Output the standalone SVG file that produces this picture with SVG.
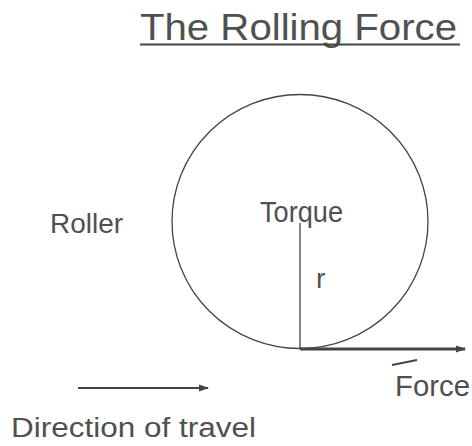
<svg xmlns="http://www.w3.org/2000/svg" width="472" height="446" viewBox="0 0 472 446">
<style>
text{font-family:"Liberation Sans",Arial,sans-serif;fill:#505050}
.ln{stroke:#444;fill:none}
</style>
<defs>
<marker id="ah" markerWidth="10" markerHeight="8" refX="9" refY="4" orient="auto" markerUnits="userSpaceOnUse">
<path d="M0,0.5 L10,4 L0,7.5 Z" fill="#444"/>
</marker>
</defs>
<rect width="472" height="446" fill="#fff"/>
<g id="title">
<text x="140" y="40" font-size="37" textLength="317" lengthAdjust="spacingAndGlyphs">The Rolling Force</text>
<line class="ln" x1="140" y1="44.5" x2="460" y2="44.5" stroke-width="2"/>
</g>
<g id="roller">
<ellipse class="ln" cx="300" cy="221.5" rx="128" ry="127" stroke-width="1.3"/>
<text x="50" y="233" font-size="28" textLength="73" lengthAdjust="spacingAndGlyphs">Roller</text>
</g>
<g id="torque"><text x="260" y="222" font-size="29" textLength="83" lengthAdjust="spacingAndGlyphs">Torque</text></g>
<g id="radius"><text x="316" y="288" font-size="28">r</text></g>
<g id="force">
<text x="395" y="396" font-size="29" textLength="75" lengthAdjust="spacingAndGlyphs">Force</text>
<line class="ln" x1="392" y1="365" x2="417" y2="360" stroke-width="1.8"/>
</g>
<g id="direction"><text x="11" y="437" font-size="27" textLength="245" lengthAdjust="spacingAndGlyphs">Direction of travel</text></g>
<g id="connectors">
<line class="ln" x1="300" y1="223" x2="300" y2="349" stroke-width="1.3"/>
<line class="ln" x1="300" y1="349" x2="465" y2="349" stroke-width="3" marker-end="url(#ah)"/>
<line class="ln" x1="78" y1="388" x2="208" y2="388" stroke-width="2" marker-end="url(#ah)"/>
</g>
</svg>
